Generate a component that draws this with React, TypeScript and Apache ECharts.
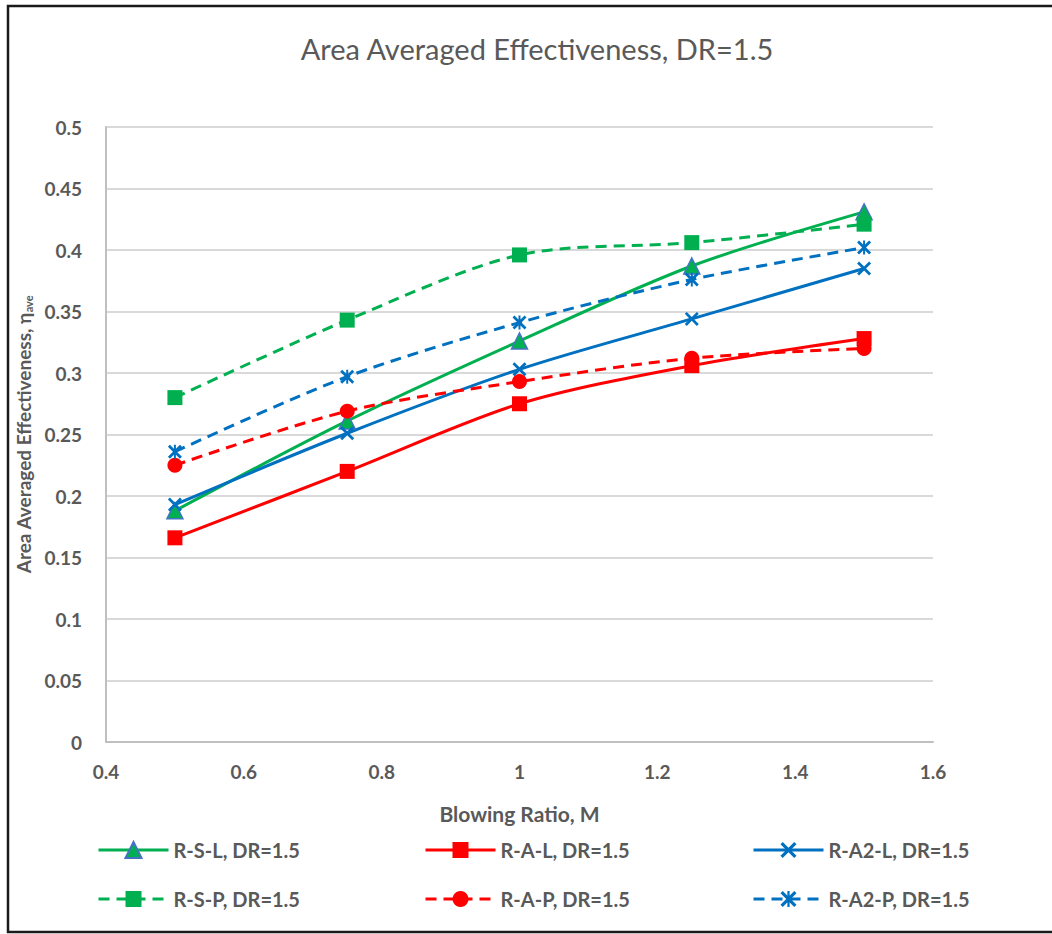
import React, { useEffect, useRef } from "react";
import * as echarts from "echarts";

// Blowing ratio M (x) and area-averaged effectiveness (y) per configuration
const blowingRatio = [0.5, 0.75, 1.0, 1.25, 1.5];
const rSL = [0.188, 0.261, 0.326, 0.387, 0.431];
const rAL = [0.166, 0.22, 0.275, 0.306, 0.328];
const rA2L = [0.193, 0.251, 0.303, 0.344, 0.385];
const rSP = [0.28, 0.343, 0.396, 0.406, 0.421];
const rAP = [0.225, 0.269, 0.293, 0.312, 0.32];
const rA2P = [0.236, 0.297, 0.341, 0.376, 0.402];

const seriesNames = [
  "R-S-L, DR=1.5",
  "R-A-L, DR=1.5",
  "R-A2-L, DR=1.5",
  "R-S-P, DR=1.5",
  "R-A-P, DR=1.5",
  "R-A2-P, DR=1.5",
];

const GREEN = "#00B050";
const RED = "#FF0000";
const BLUE = "#0070C0";
const TEXT = "#595959";
const FONT = "Lato, 'Open Sans', sans-serif";

// filled "x" and asterisk marker outlines
const X_MARK =
  "path://M0,1.4L1.4,0L5,3.6L8.6,0L10,1.4L6.4,5L10,8.6L8.6,10L5,6.4L1.4,10L0,8.6L3.6,5Z";
const STAR_MARK =
  "path://M0,1.4L1.4,0L5,3.6L8.6,0L10,1.4L6.4,5L10,8.6L8.6,10L5,6.4L1.4,10L0,8.6L3.6,5Z M4.3,0L5.7,0L5.7,10L4.3,10Z";

const pairs = (ys: number[]) => blowingRatio.map((x, i) => [x, ys[i]]);

export default function App() {
  const ref = useRef<HTMLDivElement>(null);

  useEffect(() => {
    document.body.style.margin = "0";
    if (!ref.current) return;
    const chart = echarts.init(ref.current, undefined, { renderer: "svg" });

    const legendText = {
      color: TEXT,
      fontFamily: FONT,
      fontWeight: "bold" as const,
      fontSize: 20,
    };
    const legendPos = [
      [97, 840],
      [424, 840],
      [752, 840],
      [97, 889],
      [424, 889],
      [752, 889],
    ];

    const mk = (
      name: string,
      data: number[],
      color: string,
      dashed: boolean,
      symbol: string,
      symbolSize: number,
      border?: string
    ) => ({
      name,
      type: "line",
      data: pairs(data),
      smooth: 0.3,
      symbol,
      symbolSize,
      lineStyle: { color, width: 3, type: dashed ? [11, 7] : "solid" },
      itemStyle: border
        ? { color, borderColor: border, borderWidth: 1.5 }
        : { color, borderWidth: 0 },
      emphasis: { disabled: true },
    });

    chart.setOption({
      animation: false,
      backgroundColor: "#ffffff",
      title: {
        text: "Area Averaged Effectiveness, DR=1.5",
        left: 532,
        textAlign: "center",
        top: 29,
        textStyle: {
          color: TEXT,
          fontFamily: FONT,
          fontWeight: "normal",
          fontSize: 29,
        },
      },
      grid: { left: 106, right: 119, top: 127, bottom: 192, containLabel: false },
      xAxis: {
        type: "value",
        min: 0.4,
        max: 1.6,
        interval: 0.2,
        name: "Blowing Ratio, M",
        nameLocation: "middle",
        nameGap: 61,
        nameTextStyle: {
          color: TEXT,
          fontFamily: FONT,
          fontWeight: "bold",
          fontSize: 21,
        },
        axisLine: { show: true, lineStyle: { color: "#BFBFBF", width: 2 } },
        axisTick: { show: false },
        splitLine: { show: false },
        axisLabel: {
          color: TEXT,
          fontFamily: FONT,
          fontWeight: "bold",
          fontSize: 19,
          margin: 20,
          formatter: (v: number) => String(+v.toFixed(2)),
        },
      },
      yAxis: {
        type: "value",
        min: 0,
        max: 0.5,
        interval: 0.05,
        name: "{a|Area Averaged Effectiveness, η}{s|ave}",
        nameLocation: "middle",
        nameGap: 70,
        nameTextStyle: {
          rich: {
            a: { color: TEXT, fontFamily: FONT, fontWeight: "bold", fontSize: 19 },
            s: {
              color: TEXT,
              fontFamily: FONT,
              fontWeight: "bold",
              fontSize: 11,
              verticalAlign: "bottom",
              padding: [9, 0, 0, 0],
            },
          },
        },
        axisLine: { show: true, lineStyle: { color: "#BFBFBF", width: 2 } },
        axisTick: { show: false },
        splitLine: { show: true, lineStyle: { color: "#D9D9D9", width: 2 } },
        axisLabel: {
          color: TEXT,
          fontFamily: FONT,
          fontWeight: "bold",
          fontSize: 19,
          margin: 24,
          formatter: (v: number) => String(+v.toFixed(2)),
        },
      },
      legend: seriesNames.map((n, i) => ({
        data: [n],
        left: legendPos[i][0],
        top: legendPos[i][1],
        padding: 0,
        itemWidth: 70,
        itemHeight: 20,
        textStyle: legendText,
        lineStyle: { width: 3 },
        selectedMode: false,
      })),
      series: [
        mk(seriesNames[0], rSL, GREEN, false, "triangle", 16, "#4472C4"),
        mk(seriesNames[1], rAL, RED, false, "rect", 15),
        mk(seriesNames[2], rA2L, BLUE, false, X_MARK, 14),
        mk(seriesNames[3], rSP, GREEN, true, "rect", 15),
        mk(seriesNames[4], rAP, RED, true, "circle", 15),
        mk(seriesNames[5], rA2P, BLUE, true, STAR_MARK, 14),
      ],
      graphic: [
        {
          type: "rect",
          shape: { x: 8, y: 6, width: 1080, height: 926 },
          style: { fill: "none", stroke: "#1a1a1a", lineWidth: 2.5 },
          silent: true,
          z: 100,
        },
      ],
    });

    return () => chart.dispose();
  }, []);

  return <div ref={ref} style={{ width: 1052, height: 934 }} />;
}
